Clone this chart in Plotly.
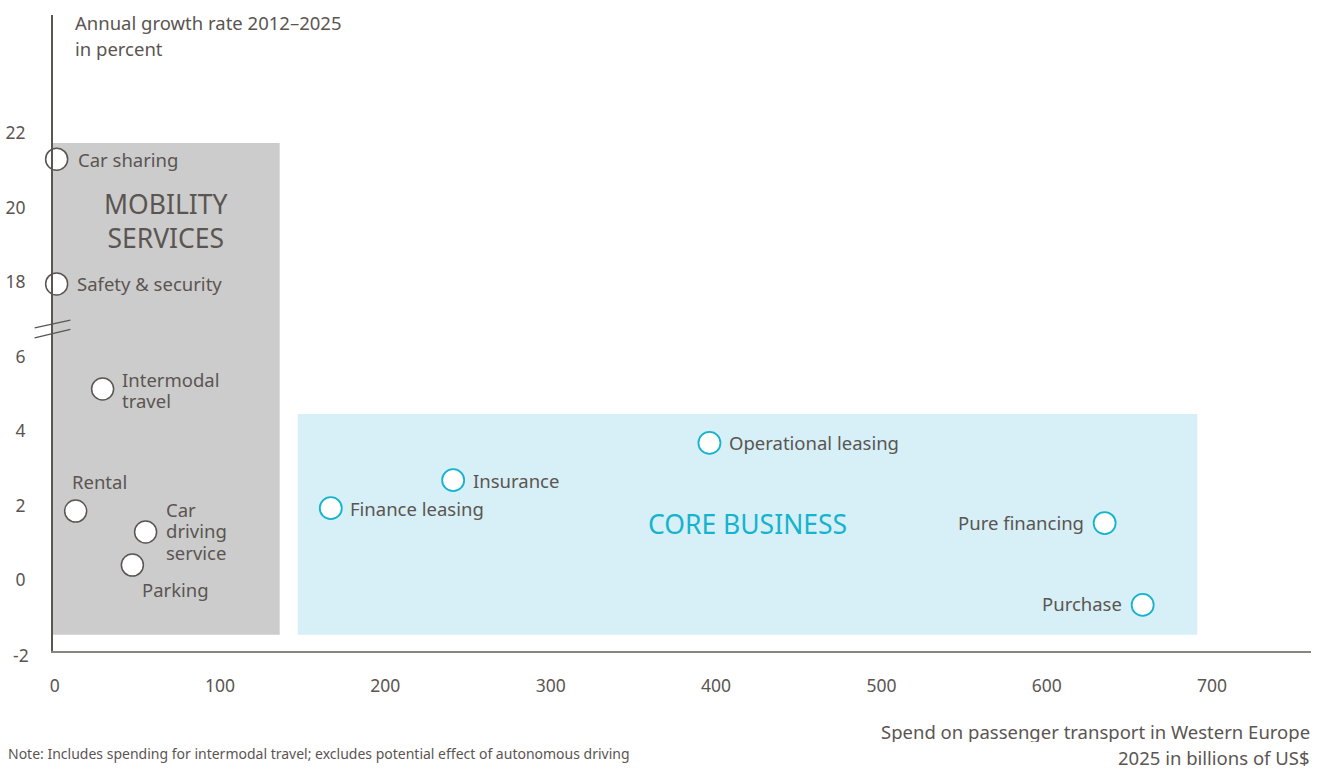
import plotly.graph_objects as go

# ---------------- data ----------------
mobility_names = ["Car sharing", "Safety & security", "Intermodal<br>travel", "Rental",
                  "Car<br>driving<br>service", "Parking"]
mobility_spend = [1.2, 1.2, 29, 12.7, 55, 47]
mobility_growth = [21.3, 17.95, 5.13, 1.85, 1.29, 0.4]

core_names = ["Finance leasing", "Insurance", "Operational leasing", "Pure financing", "Purchase"]
core_spend = [167, 241, 396, 635, 658]
core_growth = [1.93, 2.68, 3.68, 1.53, -0.67]

y_tick_real = [-2, 0, 2, 4, 6, 18, 20, 22]
x_tick_vals = [0, 100, 200, 300, 400, 500, 600, 700]

BREAK_OFFSET = 10  # values above the axis break are drawn 10 units lower


def to_axis(v):
    return v - BREAK_OFFSET if v >= 12 else v


X_RANGE = [-1.0, 759.8]
Y_RANGE = [-1.906, 15.17]


def xpaper(x):
    return (x - X_RANGE[0]) / (X_RANGE[1] - X_RANGE[0])


def ypaper(y):
    return (y - Y_RANGE[0]) / (Y_RANGE[1] - Y_RANGE[0])


TXT = "#5b5552"
TEAL = "#14b4cf"
FONT = "Noto Sans"
LBL = 18.5

fig = go.Figure()

# regions
fig.add_shape(type="rect", x0=X_RANGE[0], x1=136.1, y0=-1.47, y1=11.73, xref="x", yref="y",
              fillcolor="#cccccc", line_width=0, layer="below")
fig.add_shape(type="rect", x0=147, x1=691, y0=-1.47, y1=4.46, xref="x", yref="y",
              fillcolor="#d7eff7", line_width=0, layer="below")

fig.add_trace(go.Scatter(
    x=mobility_spend, y=[to_axis(v) for v in mobility_growth], mode="markers",
    marker=dict(size=22, color="white", line=dict(color=TXT, width=1.5)),
    hoverinfo="skip", showlegend=False, cliponaxis=False))
fig.add_trace(go.Scatter(
    x=core_spend, y=[to_axis(v) for v in core_growth], mode="markers",
    marker=dict(size=22, color="white", line=dict(color=TEAL, width=1.8)),
    hoverinfo="skip", showlegend=False, cliponaxis=False))

# point labels: (xanchor, xshift, [yshift per line])
mob_pos = [("left", 19, [0]), ("left", 18, [0]), ("left", 17, [9, -12]), ("left", -6, [30]),
           ("left", 18, [22, 1, -21]), ("left", 8, [-24])]
core_pos = [("left", 17, [0]), ("left", 18, [0]), ("left", 18, [0]),
            ("right", -19, [1]), ("right", -19, [1])]


def add_label(name, x, v, xa, xs, yss, color=TXT):
    lines = name.split("<br>")
    for line, ys in zip(lines, yss):
        # stacked lines: trim only the empty space above the glyphs so boxes don't overlap
        extra = dict(height=21, valign="bottom") if len(lines) > 1 else {}
        fig.add_annotation(x=x, y=to_axis(v), text=line, showarrow=False, xanchor=xa,
                           yanchor="middle", xshift=xs, yshift=ys - (2 if extra else 0),
                           font=dict(family=FONT, size=LBL, color=color), **extra)


for n, x, v, (xa, xs, yss) in zip(mobility_names, mobility_spend, mobility_growth, mob_pos):
    add_label(n, x, v, xa, xs, yss)
for n, x, v, (xa, xs, yss) in zip(core_names, core_spend, core_growth, core_pos):
    add_label(n, x, v, xa, xs, yss)

# region titles
fig.add_annotation(x=67.2, y=9.65, text="MOBILITY<br>SERVICES", showarrow=False,
                   font=dict(family=FONT, size=26.5, color=TXT), align="center")
fig.add_annotation(x=419.2, y=1.5, text="CORE BUSINESS", showarrow=False,
                   font=dict(family=FONT, size=26.5, color=TEAL))

# "-2" label sits just below the x axis line (outside the visible range)
fig.add_annotation(x=0, xref="paper", y=ypaper(y_tick_real[0]), yref="paper", text=str(y_tick_real[0]),
                   showarrow=False, xanchor="right", xshift=-22, yanchor="middle",
                   font=dict(family=FONT, size=17.5, color=TXT))

# axis break marks (paper coords so they are not clipped)
for y0, y1 in ((6.77, 6.98), (6.50, 6.73)):
    fig.add_shape(type="line", xref="paper", yref="paper", x0=xpaper(-12.1), x1=xpaper(9.5),
                  y0=ypaper(y0), y1=ypaper(y1), line=dict(color=TXT, width=1.3))

# axis titles and note
for line, ys in (("Annual growth rate 2012–2025", -7), ("in percent", -33)):
    fig.add_annotation(xref="paper", yref="paper", x=0, y=1, xanchor="left", yanchor="middle",
                       xshift=20, yshift=ys, text=line, showarrow=False,
                       font=dict(family=FONT, size=LBL, color=TXT))
for line, ys in (("Spend on passenger transport in Western Europe", -80),
                 ("2025 in billions of US$", -106)):
    fig.add_annotation(xref="paper", yref="paper", x=1, y=0, xanchor="right", yanchor="middle",
                       xshift=1, yshift=ys, text=line, showarrow=False, height=22,
                       font=dict(family=FONT, size=LBL, color=TXT))
fig.add_annotation(xref="paper", yref="paper", x=0, y=0, xanchor="left", yanchor="middle",
                   xshift=-47, yshift=-102,
                   text="Note: Includes spending for intermodal travel; excludes potential effect of autonomous driving",
                   showarrow=False, font=dict(family=FONT, size=14, color=TXT))

fig.update_xaxes(range=X_RANGE, tickvals=x_tick_vals, showgrid=False, zeroline=False,
                 showline=True, linecolor="#8a8583", linewidth=2, ticks="", automargin=False,
                 ticklabelstandoff=18, tickfont=dict(family=FONT, size=17.5, color=TXT))
fig.update_yaxes(range=Y_RANGE, tickvals=[to_axis(v) for v in y_tick_real[1:]],
                 ticktext=[str(v) for v in y_tick_real[1:]], showgrid=False, zeroline=False,
                 showline=True, linecolor=TXT, linewidth=1.8, ticks="", automargin=False,
                 ticklabelstandoff=22, tickfont=dict(family=FONT, size=17.5, color=TXT))

fig.update_layout(width=1321, height=770, margin=dict(l=53, r=10, t=15, b=119),
                  plot_bgcolor="white", paper_bgcolor="white",
                  font=dict(family=FONT, color=TXT))

fig.write_html("out.html")
